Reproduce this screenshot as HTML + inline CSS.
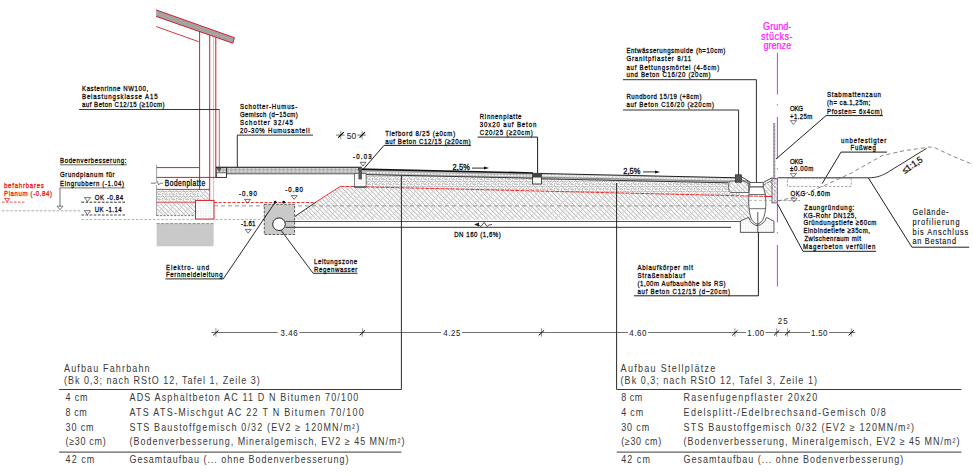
<!DOCTYPE html>
<html><head><meta charset="utf-8"><title>Querschnitt</title>
<style>
html,body{margin:0;padding:0;background:#fff;}
body{width:973px;height:475px;overflow:hidden;}
svg{display:block;}
text{font-family:"Liberation Sans",sans-serif;}
</style></head><body>
<svg width="973" height="475" viewBox="0 0 973 475">

<defs>
<pattern id="hatch" patternUnits="userSpaceOnUse" width="3.1" height="6.2" patternTransform="rotate(-45)">
<rect width="3.1" height="6.2" fill="#fff"/>
<line x1="0.5" y1="0" x2="0.5" y2="6.2" stroke="#b0b0b0" stroke-width="0.8"/>
<line x1="2.1" y1="1.0" x2="2.1" y2="2.4" stroke="#bdbdbd" stroke-width="0.8"/>
</pattern>
<pattern id="grav" patternUnits="userSpaceOnUse" width="7" height="5">
<rect width="7" height="5" fill="#fafafa"/>
<path d="M0.3,1.5 q1.1,-1.2 2.2,0 q1.1,1.2 2.2,0 M5.3,1.0 l1.4,1.3 M0.8,4.4 l1.6,-1.1 M3.4,3.9 q0.9,0.8 1.8,0 l1.4,0.8" stroke="#909090" stroke-width="0.95" fill="none"/>
</pattern>
<pattern id="stip" patternUnits="userSpaceOnUse" width="4" height="2.5">
<rect width="4" height="2.5" fill="#b2b2b2"/>
<rect x="0.5" y="0.6" width="2" height="1.1" fill="#f2f2f2"/>
</pattern>
<pattern id="dots" patternUnits="userSpaceOnUse" width="2.5" height="2.5">
<rect width="2.5" height="2.5" fill="#fff"/>
<rect x="0.5" y="0.5" width="0.8" height="0.8" fill="#bbb"/>
</pattern>
</defs>

<rect width="973" height="475" fill="#fff"/>
<polygon points="156.1,9.9 234.4,37.7 232.8,43.2 156.1,16.4" fill="#a3a3a3" stroke="none" stroke-width="0.8"/>
<polyline points="156.1,9.9 234.4,37.7 232.8,43.2 156.1,16.4" stroke="#d21f26" stroke-width="1.0" fill="none"/>
<line x1="156.1" y1="26.5" x2="198.7" y2="41.7" stroke="#d21f26" stroke-width="0.9"/>
<line x1="199.6" y1="31.4" x2="199.6" y2="189.4" stroke="#d21f26" stroke-width="1.0"/>
<line x1="209.7" y1="35.4" x2="209.7" y2="212.5" stroke="#d21f26" stroke-width="1.0"/>
<line x1="213.6" y1="36.8" x2="213.6" y2="210.0" stroke="#eaa" stroke-width="0.9"/>
<line x1="215.8" y1="37.3" x2="215.8" y2="177.6" stroke="#d21f26" stroke-width="1.0"/>
<line x1="156.6" y1="164.7" x2="156.6" y2="181.2" stroke="#888" stroke-width="0.8"/>
<line x1="156.6" y1="185.2" x2="156.6" y2="216.0" stroke="#888" stroke-width="0.8"/>
<path d="M151,183.2 L155.5,183.2 L157.3,181.4 L158.6,185 L160.2,183.2 L163,183.2" fill="none" stroke="#555" stroke-width="0.8"/>
<line x1="156.6" y1="167.6" x2="199.6" y2="167.6" stroke="#d21f26" stroke-width="1.0"/>
<line x1="156.6" y1="177.4" x2="216.0" y2="177.4" stroke="#d21f26" stroke-width="1.0"/>
<line x1="156.6" y1="189.4" x2="209.7" y2="189.4" stroke="#d21f26" stroke-width="1.0"/>
<line x1="156.6" y1="202.7" x2="195.5" y2="202.7" stroke="#d21f26" stroke-width="1.0"/>
<rect x="157.0" y="189.9" width="42.4" height="12.4" fill="url(#grav)" stroke="none" stroke-width="0.8"/>
<rect x="200.1" y="189.9" width="9.2" height="10.4" fill="url(#hatch)" stroke="none" stroke-width="0.8"/>
<rect x="157.0" y="203.2" width="38.4" height="12.2" fill="url(#hatch)" stroke="none" stroke-width="0.8"/>
<line x1="156.6" y1="215.6" x2="195.5" y2="215.6" stroke="#d21f26" stroke-width="0.8" stroke-dasharray="2,1.5"/>
<rect x="195.5" y="200.4" width="18.5" height="18.7" fill="url(#dots)" stroke="#d21f26" stroke-width="1.0"/>
<rect x="156.6" y="223.5" width="57.0" height="22.8" fill="#c9c9c9" stroke="none" stroke-width="0.8"/>
<line x1="156.6" y1="223.6" x2="213.6" y2="223.6" stroke="#777" stroke-width="0.8" stroke-dasharray="3,1.5"/>
<text transform="translate(164.8,186.3) scale(0.8,1)" font-size="8.3" fill="#111" text-anchor="start" textLength="50.4" lengthAdjust="spacing" stroke="#111" stroke-width="0.34">Bodenplatte</text>
<text transform="translate(82.0,90.8) scale(0.75,1)" font-size="8.1" fill="#111" text-anchor="start" textLength="88.3" lengthAdjust="spacing" stroke="#111" stroke-width="0.34">Kastenrinne NW100,</text>
<text transform="translate(82.0,98.9) scale(0.75,1)" font-size="8.1" fill="#111" text-anchor="start" textLength="100.7" lengthAdjust="spacing" stroke="#111" stroke-width="0.34">Belastungsklasse A15</text>
<text transform="translate(82.0,106.9) scale(0.75,1)" font-size="8.1" fill="#111" text-anchor="start" textLength="110.0" lengthAdjust="spacing" stroke="#111" stroke-width="0.34">auf Beton C12/15 (≥10cm)</text>
<polyline points="79.1,109.5 219.5,109.5" stroke="#222" stroke-width="0.9" fill="none"/>
<line x1="219.3" y1="109.5" x2="219.3" y2="167.4" stroke="#777" stroke-width="0.9"/>
<text transform="translate(60.0,163.3) scale(0.75,1)" font-size="8.1" fill="#111" text-anchor="start" textLength="88.5" lengthAdjust="spacing" stroke="#111" stroke-width="0.34">Bodenverbesserung:</text>
<line x1="60.0" y1="164.8" x2="127.0" y2="164.8" stroke="#222" stroke-width="0.7"/>
<text transform="translate(60.0,177.2) scale(0.75,1)" font-size="8.1" fill="#111" text-anchor="start" textLength="72.7" lengthAdjust="spacing" stroke="#111" stroke-width="0.34">Grundplanum für</text>
<text transform="translate(60.0,185.5) scale(0.75,1)" font-size="8.1" fill="#111" text-anchor="start" textLength="85.3" lengthAdjust="spacing" stroke="#111" stroke-width="0.34">Eingrubbern (-1.04)</text>
<polyline points="124.8,187.9 60.0,187.9 60.0,206.2" stroke="#333" stroke-width="0.7" fill="none"/>
<polygon points="57.1,206.2 62.9,206.2 60.0,209.8" fill="none" stroke="#444" stroke-width="0.7"/>
<line x1="2.0" y1="210.8" x2="80.5" y2="210.8" stroke="#888" stroke-width="0.7" stroke-dasharray="2.6,1.6"/>
<text transform="translate(4.0,188.2) scale(0.75,1)" font-size="8.1" fill="#ee1c1c" text-anchor="start" textLength="53.2" lengthAdjust="spacing" stroke="#ee1c1c" stroke-width="0.34">befahrbares</text>
<text transform="translate(4.0,195.8) scale(0.75,1)" font-size="8.1" fill="#ee1c1c" text-anchor="start" textLength="64.1" lengthAdjust="spacing" stroke="#ee1c1c" stroke-width="0.34">Planum (-0.84)</text>
<polygon points="4.4,198.3 9.8,198.3 7.1,201.7" fill="none" stroke="#ee1c1c" stroke-width="0.8"/>
<line x1="2.0" y1="202.1" x2="25.0" y2="202.1" stroke="#ee1c1c" stroke-width="0.8" stroke-dasharray="2.5,1.5"/>
<polygon points="84.4,197.6 90.6,197.6 87.5,201.5" fill="none" stroke="#333" stroke-width="0.7"/>
<text transform="translate(94.8,200.2) scale(0.75,1)" font-size="8.1" fill="#111" text-anchor="start" textLength="37.9" lengthAdjust="spacing" stroke="#111" stroke-width="0.34">OK -0.84</text>
<line x1="81.4" y1="202.2" x2="126.4" y2="202.2" stroke="#111" stroke-width="0.9" stroke-dasharray="2.6,1.5"/>
<polygon points="84.4,210.7 90.6,210.7 87.5,214.6" fill="none" stroke="#333" stroke-width="0.7"/>
<text transform="translate(94.8,212.4) scale(0.75,1)" font-size="8.1" fill="#111" text-anchor="start" textLength="35.7" lengthAdjust="spacing" stroke="#111" stroke-width="0.34">UK -1.14</text>
<line x1="81.4" y1="215.0" x2="126.4" y2="215.0" stroke="#333" stroke-width="0.9" stroke-dasharray="2.6,1.5"/>
<line x1="81.4" y1="219.5" x2="264.0" y2="219.5" stroke="#999" stroke-width="0.7" stroke-dasharray="2.6,1.6"/>
<text transform="translate(239.9,108.6) scale(0.75,1)" font-size="8.1" fill="#111" text-anchor="start" textLength="76.4" lengthAdjust="spacing" stroke="#111" stroke-width="0.34">Schotter-Humus-</text>
<text transform="translate(239.9,116.6) scale(0.75,1)" font-size="8.1" fill="#111" text-anchor="start" textLength="77.3" lengthAdjust="spacing" stroke="#111" stroke-width="0.34">Gemisch (d~15cm)</text>
<text transform="translate(239.9,124.6) scale(0.75,1)" font-size="8.1" fill="#111" text-anchor="start" textLength="70.8" lengthAdjust="spacing" stroke="#111" stroke-width="0.34">Schotter 32/45</text>
<text transform="translate(239.9,132.5) scale(0.75,1)" font-size="8.1" fill="#111" text-anchor="start" textLength="92.8" lengthAdjust="spacing" stroke="#111" stroke-width="0.34">20-30% Humusanteil</text>
<polyline points="313.0,135.1 237.3,135.1 237.3,167.4" stroke="#222" stroke-width="0.95" fill="none"/>
<rect x="216.2" y="167.4" width="143.0" height="6.3" fill="url(#stip)" stroke="none" stroke-width="0.8"/>
<line x1="216.0" y1="167.2" x2="362.0" y2="167.2" stroke="#111" stroke-width="1.1"/>
<line x1="226.0" y1="173.8" x2="356.0" y2="173.8" stroke="#333" stroke-width="0.8"/>
<rect x="216.3" y="167.4" width="10.2" height="10.0" fill="#fff" stroke="#222" stroke-width="0.9"/>
<rect x="216.8" y="168.0" width="9.2" height="4.6" fill="url(#stip)" stroke="none" stroke-width="0.8"/>
<polygon points="216.8,168.0 221.5,168.0 219.2,172.2" fill="#555" stroke="none" stroke-width="0.8"/>
<line x1="216.3" y1="172.8" x2="226.5" y2="172.8" stroke="#333" stroke-width="0.7"/>
<text x="346.7" y="138.7" font-size="9.4" fill="#2a2a2a" text-anchor="start" textLength="9.5" lengthAdjust="spacingAndGlyphs" stroke="#2a2a2a" stroke-width="0.1">50</text>
<line x1="336.0" y1="135.1" x2="344.6" y2="135.1" stroke="#666" stroke-width="0.9"/>
<line x1="340.8" y1="130.7" x2="340.8" y2="139.5" stroke="#888" stroke-width="0.9"/>
<line x1="338.2" y1="137.7" x2="343.7" y2="132.2" stroke="#000" stroke-width="1.1"/>
<line x1="357.3" y1="135.1" x2="365.9" y2="135.1" stroke="#666" stroke-width="0.9"/>
<line x1="362.1" y1="130.7" x2="362.1" y2="139.5" stroke="#888" stroke-width="0.9"/>
<line x1="359.5" y1="137.7" x2="365.0" y2="132.2" stroke="#000" stroke-width="1.1"/>
<text transform="translate(353.1,159.3) scale(0.75,1)" font-size="8.1" fill="#111" text-anchor="start" textLength="24.7" lengthAdjust="spacing" stroke="#111" stroke-width="0.34">-0.03</text>
<polygon points="360.0,162.3 366.0,162.3 363.0,166.1" fill="none" stroke="#333" stroke-width="0.7"/>
<text transform="translate(385.2,135.9) scale(0.75,1)" font-size="8.1" fill="#111" text-anchor="start" textLength="93.3" lengthAdjust="spacing" stroke="#111" stroke-width="0.34">Tiefbord 8/25 (±0cm)</text>
<text transform="translate(385.2,143.9) scale(0.75,1)" font-size="8.1" fill="#111" text-anchor="start" textLength="113.9" lengthAdjust="spacing" stroke="#111" stroke-width="0.34">auf Beton C12/15 (≥20cm)</text>
<polyline points="471.0,145.4 384.0,145.4 363.1,169.5" stroke="#111" stroke-width="0.95" fill="none"/>
<text transform="translate(452.5,169.5) scale(0.9,1)" font-size="8.3" fill="#111" text-anchor="start" textLength="19.2" lengthAdjust="spacing" stroke="#111" stroke-width="0.34">2,5%</text>
<line x1="472.0" y1="168.1" x2="485.0" y2="168.1" stroke="#222" stroke-width="0.95"/>
<polygon points="484.0,166.6 489.0,168.1 484.0,169.6" fill="#111" stroke="none" stroke-width="0.8"/>
<text transform="translate(479.8,118.6) scale(0.75,1)" font-size="8.1" fill="#111" text-anchor="start" textLength="55.6" lengthAdjust="spacing" stroke="#111" stroke-width="0.34">Rinnenplatte</text>
<text transform="translate(479.8,126.6) scale(0.75,1)" font-size="8.1" fill="#111" text-anchor="start" textLength="75.3" lengthAdjust="spacing" stroke="#111" stroke-width="0.34">30x20 auf Beton</text>
<text transform="translate(479.8,134.7) scale(0.75,1)" font-size="8.1" fill="#111" text-anchor="start" textLength="70.8" lengthAdjust="spacing" stroke="#111" stroke-width="0.34">C20/25 (≥20cm)</text>
<polyline points="477.6,137.1 537.6,137.1 537.6,173.0" stroke="#111" stroke-width="0.95" fill="none"/>
<text transform="translate(623.2,173.7) scale(0.9,1)" font-size="8.3" fill="#111" text-anchor="start" textLength="19.2" lengthAdjust="spacing" stroke="#111" stroke-width="0.34">2,5%</text>
<line x1="643.0" y1="171.9" x2="656.0" y2="171.9" stroke="#222" stroke-width="0.95"/>
<polygon points="655.0,170.4 660.0,171.9 655.0,173.4" fill="#111" stroke="none" stroke-width="0.8"/>
<polygon points="294.6,216.7 340.5,186.3 350.0,186.5 360.0,186.8 370.0,187.0 380.0,187.2 390.0,187.5 400.0,187.7 410.0,188.0 420.0,188.2 430.0,188.4 440.0,188.7 450.0,188.9 460.0,189.1 470.0,189.4 480.0,189.6 490.0,189.9 500.0,190.1 510.0,190.3 520.0,190.6 530.0,190.8 540.0,191.0 550.0,191.3 560.0,191.5 570.0,191.8 580.0,192.0 590.0,192.2 600.0,192.5 610.0,192.7 620.0,192.9 630.0,193.2 640.0,193.4 650.0,193.6 660.0,193.9 670.0,194.1 680.0,194.4 690.0,194.6 700.0,194.8 710.0,195.1 720.0,195.3 730.0,195.5 740.0,195.8 750.0,196.0 760.0,196.3 760.0,219.7 294.6,219.7" fill="url(#hatch)" stroke="none" stroke-width="0.8"/>
<polygon points="366.0,186.9 366.0,174.8 370.0,174.9 380.0,175.1 390.0,175.3 400.0,175.6 410.0,175.8 420.0,176.0 430.0,176.2 440.0,176.4 450.0,176.6 460.0,176.9 470.0,177.1 480.0,177.3 490.0,177.5 500.0,177.7 510.0,177.9 520.0,178.1 530.0,178.4 540.0,178.6 550.0,178.8 560.0,179.0 570.0,179.2 580.0,179.4 590.0,179.7 600.0,179.9 610.0,180.1 620.0,180.3 630.0,180.5 640.0,180.7 650.0,181.0 660.0,181.2 670.0,181.4 680.0,181.6 690.0,181.8 700.0,182.0 710.0,182.3 720.0,182.5 730.0,182.7 740.0,182.9 740.0,195.8 740.0,195.8 730.0,195.5 720.0,195.3 710.0,195.1 700.0,194.8 690.0,194.6 680.0,194.4 670.0,194.1 660.0,193.9 650.0,193.6 640.0,193.4 630.0,193.2 620.0,192.9 610.0,192.7 600.0,192.5 590.0,192.2 580.0,192.0 570.0,191.8 560.0,191.5 550.0,191.3 540.0,191.0 530.0,190.8 520.0,190.6 510.0,190.3 500.0,190.1 490.0,189.9 480.0,189.6 470.0,189.4 460.0,189.1 450.0,188.9 440.0,188.7 430.0,188.4 420.0,188.2 410.0,188.0 400.0,187.7 390.0,187.5 380.0,187.2 370.0,187.0" fill="url(#grav)" stroke="none" stroke-width="0.8"/>
<polygon points="358.0,169.4 533.0,173.2 533.0,178.4 358.0,174.6" fill="#b8b8b8" stroke="none" stroke-width="0.8"/>
<polygon points="541.0,173.4 735.0,177.6 735.0,183.0 541.0,178.8" fill="#cfcfcf" stroke="none" stroke-width="0.8"/>
<polyline points="367.0,172.5 533.0,176.1" stroke="#fff" stroke-width="1.1" fill="none" stroke-dasharray="2.2,1.0"/>
<polyline points="541.0,175.3 735.0,179.5" stroke="#fff" stroke-width="1.0" fill="none" stroke-dasharray="2.6,1.0"/>
<polyline points="541.0,177.3 735.0,181.5" stroke="#555" stroke-width="0.6" fill="none"/>
<polyline points="358.0,169.2 533.0,173.0" stroke="#111" stroke-width="1.7" fill="none"/>
<polyline points="541.0,173.5 735.0,177.7" stroke="#222" stroke-width="1.1" fill="none"/>
<polyline points="366.0,174.6 533.0,178.2" stroke="#222" stroke-width="0.9" fill="none"/>
<polyline points="541.0,178.8 728.0,182.8" stroke="#222" stroke-width="0.9" fill="none"/>
<polyline points="214.0,202.5 315.9,202.5" stroke="#ee1c1c" stroke-width="0.9" fill="none" stroke-dasharray="3,1.6"/>
<polyline points="315.9,202.1 340.5,186.3" stroke="#ee1c1c" stroke-width="0.9" fill="none"/>
<polyline points="340.5,186.3 777.0,196.7" stroke="#ee1c1c" stroke-width="0.95" fill="none" stroke-dasharray="4,1"/>
<line x1="294.6" y1="216.7" x2="315.9" y2="202.1" stroke="#111" stroke-width="0.9"/>
<line x1="214.0" y1="205.9" x2="760.0" y2="205.9" stroke="#8c8c8c" stroke-width="0.95" stroke-dasharray="4,3"/>
<rect x="354.6" y="173.7" width="11.5" height="13.3" fill="url(#dots)" stroke="#444" stroke-width="0.7"/>
<line x1="354.6" y1="187.0" x2="366.1" y2="187.0" stroke="#222" stroke-width="0.9"/>
<rect x="358.5" y="168.9" width="3.4" height="10.5" fill="#555" stroke="none" stroke-width="0.8"/>
<rect x="532.6" y="177.0" width="9.0" height="7.0" fill="url(#dots)" stroke="#222" stroke-width="0.8"/>
<rect x="532.6" y="173.2" width="9.0" height="3.4" fill="#444" stroke="#222" stroke-width="0.6"/>
<rect x="264.3" y="204.3" width="30.3" height="30.2" fill="#c9c9c9" stroke="#333" stroke-width="0.8" stroke-dasharray="2.5,1.5"/>
<line x1="285.5" y1="221.5" x2="750.0" y2="221.5" stroke="#444" stroke-width="0.9"/>
<line x1="285.5" y1="227.3" x2="731.0" y2="227.3" stroke="#333" stroke-width="1.0"/>
<polygon points="474.0,224.4 479.0,222.4 479.0,226.4" fill="#222" stroke="none" stroke-width="0.8"/>
<path d="M478,224.4 L481,226.6 L484.2,222.4 L487,226.6 L489,225 L492,224.4" fill="none" stroke="#222" stroke-width="0.8"/>
<text transform="translate(454.2,236.7) scale(0.75,1)" font-size="8.1" fill="#111" text-anchor="start" textLength="62.1" lengthAdjust="spacing" stroke="#111" stroke-width="0.34">DN 160 (1,6%)</text>
<circle cx="279" cy="224.2" r="6.3" fill="#fff" stroke="#111" stroke-width="0.9"/>
<text transform="translate(239.1,196.2) scale(0.75,1)" font-size="8.1" fill="#111" text-anchor="start" textLength="23.6" lengthAdjust="spacing" stroke="#111" stroke-width="0.34">-0.90</text>
<polygon points="244.5,199.4 250.5,199.4 247.5,203.2" fill="none" stroke="#333" stroke-width="0.7"/>
<text transform="translate(285.3,192.4) scale(0.75,1)" font-size="8.1" fill="#111" text-anchor="start" textLength="23.6" lengthAdjust="spacing" stroke="#111" stroke-width="0.34">-0.80</text>
<polygon points="291.2,195.6 297.2,195.6 294.2,199.3" fill="none" stroke="#333" stroke-width="0.7"/>
<text transform="translate(241.1,226.1) scale(0.75,1)" font-size="8.1" fill="#111" text-anchor="start" textLength="18.9" lengthAdjust="spacing" stroke="#111" stroke-width="0.34">-1.61</text>
<polygon points="245.2,229.4 251.2,229.4 248.2,233.2" fill="none" stroke="#333" stroke-width="0.7"/>
<polyline points="165.5,278.9 223.3,278.9 275.2,202.2" stroke="#111" stroke-width="0.9" fill="none"/>
<text transform="translate(165.9,269.6) scale(0.75,1)" font-size="8.1" fill="#111" text-anchor="start" textLength="57.7" lengthAdjust="spacing" stroke="#111" stroke-width="0.34">Elektro- und</text>
<text transform="translate(165.9,276.6) scale(0.75,1)" font-size="8.1" fill="#111" text-anchor="start" textLength="75.5" lengthAdjust="spacing" stroke="#111" stroke-width="0.34">Fernmeldeleitung</text>
<polyline points="357.5,273.3 313.2,273.3 281.0,230.3" stroke="#111" stroke-width="0.9" fill="none"/>
<text transform="translate(314.0,263.9) scale(0.75,1)" font-size="8.1" fill="#111" text-anchor="start" textLength="57.5" lengthAdjust="spacing" stroke="#111" stroke-width="0.34">Leitungszone</text>
<text transform="translate(314.0,271.7) scale(0.75,1)" font-size="8.1" fill="#111" text-anchor="start" textLength="57.7" lengthAdjust="spacing" stroke="#111" stroke-width="0.34">Regenwasser</text>
<circle cx="275.2" cy="202.2" r="1.35" fill="#111"/>
<circle cx="283.7" cy="202.2" r="1.35" fill="#111"/>
<line x1="401.4" y1="175.8" x2="401.4" y2="389.5" stroke="#111" stroke-width="0.9"/>
<line x1="616.6" y1="183.0" x2="616.6" y2="389.5" stroke="#111" stroke-width="0.9"/>
<text transform="translate(626.4,53.3) scale(0.75,1)" font-size="8.1" fill="#111" text-anchor="start" textLength="131.9" lengthAdjust="spacing" stroke="#111" stroke-width="0.34">Entwässerungsmulde (h=10cm)</text>
<text transform="translate(626.4,61.3) scale(0.75,1)" font-size="8.1" fill="#111" text-anchor="start" textLength="86.4" lengthAdjust="spacing" stroke="#111" stroke-width="0.34">Granitpflaster 8/11</text>
<text transform="translate(626.4,69.5) scale(0.75,1)" font-size="8.1" fill="#111" text-anchor="start" textLength="123.7" lengthAdjust="spacing" stroke="#111" stroke-width="0.34">auf Bettungsmörtel (4-6cm)</text>
<text transform="translate(626.4,77.3) scale(0.75,1)" font-size="8.1" fill="#111" text-anchor="start" textLength="112.3" lengthAdjust="spacing" stroke="#111" stroke-width="0.34">und Beton C16/20 (20cm)</text>
<polyline points="623.0,79.7 756.4,79.7 756.4,182.8" stroke="#222" stroke-width="0.95" fill="none"/>
<text transform="translate(626.4,98.6) scale(0.75,1)" font-size="8.1" fill="#111" text-anchor="start" textLength="100.1" lengthAdjust="spacing" stroke="#111" stroke-width="0.34">Rundbord 15/19 (+8cm)</text>
<text transform="translate(626.4,106.7) scale(0.75,1)" font-size="8.1" fill="#111" text-anchor="start" textLength="116.7" lengthAdjust="spacing" stroke="#111" stroke-width="0.34">auf Beton C16/20 (≥20cm)</text>
<polyline points="623.0,110.0 738.6,110.0 738.6,175.0" stroke="#222" stroke-width="0.95" fill="none"/>
<path d="M731,181 L748,181 L749,192.5 L731,192.5 Q728.7,192.5 728.7,189 L728.7,184 Q728.7,181 731,181 Z" fill="url(#hatch)" stroke="#333" stroke-width="0.7"/>
<rect x="735.4" y="174.8" width="5.9" height="7.4" fill="#555" stroke="#222" stroke-width="0.7"/>
<polygon points="763.3,185.0 772.5,180.2 772.5,196.0 765.0,196.0" fill="url(#hatch)" stroke="none" stroke-width="0.8"/>
<path d="M741,176.5 L750.8,182.5 M763.3,182.5 L772.5,177.5" fill="none" stroke="#333" stroke-width="0.9"/>
<path d="M741,179.2 L750.8,185 M763.3,185 L772.5,180.2" fill="none" stroke="#444" stroke-width="0.8"/>
<rect x="766.0" y="183.0" width="6.5" height="13.0" fill="url(#hatch)" stroke="none" stroke-width="0.8"/>
<path d="M740.4,232.4 L740.4,221 L748.5,217.4 Q750.5,224 757.3,225.8 Q764.5,224 766.5,217.4 L774,221.3 L774,232.4 Z" fill="url(#dots)" stroke="#333" stroke-width="0.8"/>
<path d="M749.8,186.8 C748.3,195 748.3,205 749.6,212.5 Q751,222.5 757.3,224.3 Q763.6,222.5 765,212.5 C766.3,205 766.3,195 763.2,186.8 Z" fill="#fff" stroke="#333" stroke-width="0.8"/>
<rect x="749.8" y="182.6" width="13.4" height="4.2" fill="#fff" stroke="#333" stroke-width="0.8"/>
<line x1="749.2" y1="194.5" x2="765.6" y2="194.5" stroke="#333" stroke-width="0.7"/>
<line x1="749.6" y1="208.7" x2="765.2" y2="208.7" stroke="#333" stroke-width="0.7"/>
<line x1="749.0" y1="200.4" x2="800.0" y2="200.4" stroke="#888" stroke-width="0.6" stroke-dasharray="3,2"/>
<line x1="757.8" y1="212.0" x2="757.8" y2="232.0" stroke="#333" stroke-width="0.8"/>
<polyline points="749.0,196.0 777.0,196.7" stroke="#ee1c1c" stroke-width="0.95" fill="none" stroke-dasharray="4,1"/>
<rect x="773.2" y="123.0" width="2.0" height="56.0" fill="#8a8a8a" stroke="none" stroke-width="0.8"/>
<line x1="774.2" y1="124.0" x2="774.2" y2="178.0" stroke="#eee" stroke-width="0.5" stroke-dasharray="2,1.5"/>
<rect x="772.0" y="178.7" width="5.5" height="24.2" fill="url(#hatch)" stroke="#333" stroke-width="0.7"/>
<line x1="774.8" y1="179.0" x2="774.8" y2="202.0" stroke="#777" stroke-width="0.6" stroke-dasharray="2,1.5"/>
<line x1="777.4" y1="52.9" x2="777.4" y2="94.4" stroke="#ff19ff" stroke-width="1.0"/>
<line x1="777.4" y1="104.2" x2="777.4" y2="105.4" stroke="#ff19ff" stroke-width="1.0"/>
<line x1="777.4" y1="116.9" x2="777.4" y2="158.4" stroke="#ff19ff" stroke-width="1.0"/>
<line x1="777.4" y1="168.2" x2="777.4" y2="169.4" stroke="#ff19ff" stroke-width="1.0"/>
<line x1="777.4" y1="180.9" x2="777.4" y2="222.4" stroke="#ff19ff" stroke-width="1.0"/>
<line x1="777.4" y1="232.2" x2="777.4" y2="233.4" stroke="#ff19ff" stroke-width="1.0"/>
<line x1="777.4" y1="244.9" x2="777.4" y2="286.4" stroke="#ff19ff" stroke-width="1.0"/>
<text transform="translate(777.2,29.7) scale(0.85,1)" font-size="10.6" fill="#ff19ff" text-anchor="middle" textLength="33.2" lengthAdjust="spacing" stroke="#ff19ff" stroke-width="0.25">Grund-</text>
<text transform="translate(776.7,39.6) scale(0.85,1)" font-size="10.6" fill="#ff19ff" text-anchor="middle" textLength="37.1" lengthAdjust="spacing" stroke="#ff19ff" stroke-width="0.25">stücks-</text>
<text transform="translate(777.3,49.3) scale(0.85,1)" font-size="10.6" fill="#ff19ff" text-anchor="middle" textLength="32.7" lengthAdjust="spacing" stroke="#ff19ff" stroke-width="0.25">grenze</text>
<text transform="translate(790.1,110.7) scale(0.75,1)" font-size="8.1" fill="#111" text-anchor="start" textLength="17.3" lengthAdjust="spacing" stroke="#111" stroke-width="0.34">OKG</text>
<text transform="translate(790.1,118.5) scale(0.75,1)" font-size="8.1" fill="#111" text-anchor="start" textLength="29.5" lengthAdjust="spacing" stroke="#111" stroke-width="0.34">+1.25m</text>
<polygon points="790.3,120.6 796.5,120.6 793.4,124.5" fill="none" stroke="#444" stroke-width="0.7"/>
<text transform="translate(790.1,163.7) scale(0.75,1)" font-size="8.1" fill="#111" text-anchor="start" textLength="17.3" lengthAdjust="spacing" stroke="#111" stroke-width="0.34">OKG</text>
<text transform="translate(790.1,171.0) scale(0.75,1)" font-size="8.1" fill="#111" text-anchor="start" textLength="30.9" lengthAdjust="spacing" stroke="#111" stroke-width="0.34">±0.00m</text>
<polygon points="790.3,173.4 796.5,173.4 793.4,177.3" fill="none" stroke="#444" stroke-width="0.7"/>
<text transform="translate(790.5,196.3) scale(0.75,1)" font-size="8.1" fill="#111" text-anchor="start" textLength="52.8" lengthAdjust="spacing" stroke="#111" stroke-width="0.34">OKG -0.60m</text>
<polygon points="790.9,198.2 797.1,198.2 794.0,202.1" fill="none" stroke="#444" stroke-width="0.7"/>
<line x1="777.5" y1="200.6" x2="800.0" y2="200.6" stroke="#888" stroke-width="0.6" stroke-dasharray="3,2"/>
<text transform="translate(827.0,97.3) scale(0.75,1)" font-size="8.1" fill="#111" text-anchor="start" textLength="72.0" lengthAdjust="spacing" stroke="#111" stroke-width="0.34">Stabmattenzaun</text>
<text transform="translate(827.0,105.3) scale(0.75,1)" font-size="8.1" fill="#111" text-anchor="start" textLength="57.7" lengthAdjust="spacing" stroke="#111" stroke-width="0.34">(h= ca.1,25m;</text>
<text transform="translate(827.0,113.5) scale(0.75,1)" font-size="8.1" fill="#111" text-anchor="start" textLength="73.7" lengthAdjust="spacing" stroke="#111" stroke-width="0.34">Pfosten= 6x4cm)</text>
<polyline points="882.9,115.6 826.1,115.6 776.0,159.0" stroke="#111" stroke-width="0.95" fill="none"/>
<text transform="translate(841.0,142.6) scale(0.75,1)" font-size="8.1" fill="#111" text-anchor="start" textLength="60.4" lengthAdjust="spacing" stroke="#111" stroke-width="0.34">unbefestigter</text>
<text transform="translate(850.5,150.4) scale(0.75,1)" font-size="8.1" fill="#111" text-anchor="start" textLength="33.7" lengthAdjust="spacing" stroke="#111" stroke-width="0.34">Fußweg</text>
<polyline points="887.0,152.1 841.0,152.1 822.1,183.7" stroke="#111" stroke-width="0.95" fill="none"/>
<path d="M777.5,177.8 L868.4,177.8 C877,177.8 882,175.6 888.1,172.1 L926.6,148.3" fill="none" stroke="#333" stroke-width="1.0"/>
<rect x="787.4" y="178.0" width="63.8" height="8.4" fill="none" stroke="#666" stroke-width="0.6" stroke-dasharray="2.5,1.5"/>
<path d="M777.5,201 L799.7,195.8 L824.4,185.5 L851.1,173.2 L882,155.7 L904.5,150.6 L926,147.6 Q931.3,146.2 936,148.3 L953.9,156.7 L973,164.5" fill="none" stroke="#666" stroke-width="0.8" stroke-dasharray="4,3"/>
<text x="914.0" y="167.6" font-size="9.0" fill="#222" text-anchor="middle" textLength="22.5" lengthAdjust="spacingAndGlyphs" stroke="#222" stroke-width="0.34" transform="rotate(-34 914.0 167.6)">≤1:1,5</text>
<text transform="translate(804.2,209.6) scale(0.75,1)" font-size="8.1" fill="#111" text-anchor="start" textLength="66.7" lengthAdjust="spacing" stroke="#111" stroke-width="0.34">Zaungründung:</text>
<text transform="translate(803.4,217.5) scale(0.75,1)" font-size="8.1" fill="#111" text-anchor="start" textLength="70.7" lengthAdjust="spacing" stroke="#111" stroke-width="0.34">KG-Rohr DN125,</text>
<text transform="translate(803.4,225.3) scale(0.75,1)" font-size="8.1" fill="#111" text-anchor="start" textLength="97.3" lengthAdjust="spacing" stroke="#111" stroke-width="0.34">Gründungstiefe ≥60cm</text>
<text transform="translate(803.4,233.2) scale(0.75,1)" font-size="8.1" fill="#111" text-anchor="start" textLength="88.7" lengthAdjust="spacing" stroke="#111" stroke-width="0.34">Einbindetiefe ≥35cm,</text>
<text transform="translate(804.4,241.3) scale(0.75,1)" font-size="8.1" fill="#111" text-anchor="start" textLength="75.3" lengthAdjust="spacing" stroke="#111" stroke-width="0.34">Zwischenraum mit</text>
<text transform="translate(803.0,249.2) scale(0.75,1)" font-size="8.1" fill="#111" text-anchor="start" textLength="96.5" lengthAdjust="spacing" stroke="#111" stroke-width="0.34">Magerbeton verfüllen</text>
<polyline points="876.0,251.3 803.0,251.3 777.5,204.0" stroke="#111" stroke-width="0.95" fill="none"/>
<text transform="translate(912.5,214.8) scale(0.86,1)" font-size="8.6" fill="#111" text-anchor="start" textLength="41.9" lengthAdjust="spacing" stroke="#111" stroke-width="0.12">Gelände-</text>
<text transform="translate(912.5,224.8) scale(0.86,1)" font-size="8.6" fill="#111" text-anchor="start" textLength="54.7" lengthAdjust="spacing" stroke="#111" stroke-width="0.12">profilierung</text>
<text transform="translate(912.5,234.6) scale(0.86,1)" font-size="8.6" fill="#111" text-anchor="start" textLength="64.8" lengthAdjust="spacing" stroke="#111" stroke-width="0.12">bis Anschluss</text>
<text transform="translate(912.5,244.4) scale(0.86,1)" font-size="8.6" fill="#111" text-anchor="start" textLength="50.6" lengthAdjust="spacing" stroke="#111" stroke-width="0.12">an Bestand</text>
<polyline points="969.2,247.2 911.9,247.2 868.4,178.0" stroke="#111" stroke-width="0.95" fill="none"/>
<text transform="translate(637.4,269.6) scale(0.75,1)" font-size="8.1" fill="#111" text-anchor="start" textLength="74.0" lengthAdjust="spacing" stroke="#111" stroke-width="0.34">Ablaufkörper mit</text>
<text transform="translate(637.4,277.5) scale(0.75,1)" font-size="8.1" fill="#111" text-anchor="start" textLength="63.3" lengthAdjust="spacing" stroke="#111" stroke-width="0.34">Straßenablauf</text>
<text transform="translate(637.4,285.9) scale(0.75,1)" font-size="8.1" fill="#111" text-anchor="start" textLength="117.5" lengthAdjust="spacing" stroke="#111" stroke-width="0.34">(1,00m Aufbauhöhe bis RS)</text>
<text transform="translate(637.4,293.8) scale(0.75,1)" font-size="8.1" fill="#111" text-anchor="start" textLength="123.5" lengthAdjust="spacing" stroke="#111" stroke-width="0.34">auf Beton C12/15 (d~20cm)</text>
<polyline points="634.0,295.8 758.4,295.8 758.4,232.0" stroke="#111" stroke-width="0.95" fill="none"/>
<line x1="211.3" y1="332.5" x2="277.7" y2="332.5" stroke="#333" stroke-width="0.7"/>
<line x1="299.5" y1="332.5" x2="441.0" y2="332.5" stroke="#333" stroke-width="0.7"/>
<line x1="462.0" y1="332.5" x2="628.0" y2="332.5" stroke="#333" stroke-width="0.7"/>
<line x1="648.0" y1="332.5" x2="746.0" y2="332.5" stroke="#333" stroke-width="0.7"/>
<line x1="765.5" y1="332.5" x2="810.0" y2="332.5" stroke="#333" stroke-width="0.7"/>
<line x1="829.0" y1="332.5" x2="855.2" y2="332.5" stroke="#333" stroke-width="0.7"/>
<line x1="215.9" y1="328.3" x2="215.9" y2="336.7" stroke="#777" stroke-width="0.8"/>
<line x1="213.2" y1="335.4" x2="218.5" y2="330.3" stroke="#000" stroke-width="1.0"/>
<line x1="362.4" y1="328.3" x2="362.4" y2="336.7" stroke="#777" stroke-width="0.8"/>
<line x1="359.7" y1="335.4" x2="365.0" y2="330.3" stroke="#000" stroke-width="1.0"/>
<line x1="541.5" y1="328.3" x2="541.5" y2="336.7" stroke="#777" stroke-width="0.8"/>
<line x1="538.8" y1="335.4" x2="544.1" y2="330.3" stroke="#000" stroke-width="1.0"/>
<line x1="734.9" y1="328.3" x2="734.9" y2="336.7" stroke="#777" stroke-width="0.8"/>
<line x1="732.2" y1="335.4" x2="737.5" y2="330.3" stroke="#000" stroke-width="1.0"/>
<line x1="776.7" y1="328.3" x2="776.7" y2="336.7" stroke="#777" stroke-width="0.8"/>
<line x1="774.0" y1="335.4" x2="779.3" y2="330.3" stroke="#000" stroke-width="1.0"/>
<line x1="787.6" y1="328.3" x2="787.6" y2="336.7" stroke="#777" stroke-width="0.8"/>
<line x1="784.9" y1="335.4" x2="790.2" y2="330.3" stroke="#000" stroke-width="1.0"/>
<line x1="851.3" y1="328.3" x2="851.3" y2="336.7" stroke="#777" stroke-width="0.8"/>
<line x1="848.6" y1="335.4" x2="853.9" y2="330.3" stroke="#000" stroke-width="1.0"/>
<text transform="translate(289.1,335.6) scale(0.9,1)" font-size="8.8" fill="#222" text-anchor="middle" textLength="19.1" lengthAdjust="spacing" stroke="#222" stroke-width="0.05">3.46</text>
<text transform="translate(451.8,335.6) scale(0.9,1)" font-size="8.8" fill="#222" text-anchor="middle" textLength="19.1" lengthAdjust="spacing" stroke="#222" stroke-width="0.05">4.25</text>
<text transform="translate(637.9,335.6) scale(0.9,1)" font-size="8.8" fill="#222" text-anchor="middle" textLength="19.1" lengthAdjust="spacing" stroke="#222" stroke-width="0.05">4.60</text>
<text transform="translate(755.8,335.6) scale(0.9,1)" font-size="8.8" fill="#222" text-anchor="middle" textLength="18.8" lengthAdjust="spacing" stroke="#222" stroke-width="0.05">1.00</text>
<text transform="translate(782.6,323.8) scale(0.9,1)" font-size="8.8" fill="#222" text-anchor="middle" textLength="11.0" lengthAdjust="spacing" stroke="#222" stroke-width="0.05">25</text>
<text transform="translate(819.2,335.6) scale(0.9,1)" font-size="8.8" fill="#222" text-anchor="middle" textLength="18.2" lengthAdjust="spacing" stroke="#222" stroke-width="0.05">1.50</text>
<text transform="translate(64.0,372.3) scale(0.88,1)" font-size="10.2" fill="#383838" text-anchor="start" textLength="97.3" lengthAdjust="spacing">Aufbau Fahrbahn</text>
<text transform="translate(64.0,384.3) scale(0.88,1)" font-size="10.2" fill="#383838" text-anchor="start" textLength="222.4" lengthAdjust="spacing">(Bk 0,3; nach RStO 12, Tafel 1, Zeile 3)</text>
<line x1="59.1" y1="389.5" x2="401.4" y2="389.5" stroke="#222" stroke-width="0.9"/>
<text transform="translate(65.6,401.4) scale(0.88,1)" font-size="10.2" fill="#383838" text-anchor="start" textLength="24.9" lengthAdjust="spacing">4 cm</text>
<text transform="translate(129.5,401.4) scale(0.88,1)" font-size="10.2" fill="#383838" text-anchor="start" textLength="260.0" lengthAdjust="spacing">ADS Asphaltbeton AC 11 D N Bitumen 70/100</text>
<text transform="translate(65.6,416.0) scale(0.88,1)" font-size="10.2" fill="#383838" text-anchor="start" textLength="24.0" lengthAdjust="spacing">8 cm</text>
<text transform="translate(129.5,416.0) scale(0.88,1)" font-size="10.2" fill="#383838" text-anchor="start" textLength="266.2" lengthAdjust="spacing">ATS ATS-Mischgut AC 22 T N Bitumen 70/100</text>
<text transform="translate(65.6,430.6) scale(0.88,1)" font-size="10.2" fill="#383838" text-anchor="start" textLength="31.8" lengthAdjust="spacing">30 cm</text>
<text transform="translate(129.5,430.6) scale(0.88,1)" font-size="10.2" fill="#383838" text-anchor="start" textLength="261.0" lengthAdjust="spacing">STS Baustoffgemisch 0/32 (EV2 ≥ 120MN/m²)</text>
<text transform="translate(65.6,445.1) scale(0.88,1)" font-size="10.2" fill="#383838" text-anchor="start" textLength="45.5" lengthAdjust="spacing">(≥30 cm)</text>
<text transform="translate(129.5,445.1) scale(0.88,1)" font-size="10.2" fill="#383838" text-anchor="start" textLength="312.5" lengthAdjust="spacing">(Bodenverbesserung, Mineralgemisch, EV2 ≥ 45 MN/m²)</text>
<line x1="59.1" y1="452.1" x2="401.4" y2="452.1" stroke="#222" stroke-width="0.9"/>
<text transform="translate(65.6,463.3) scale(0.88,1)" font-size="10.2" fill="#383838" text-anchor="start" textLength="32.6" lengthAdjust="spacing">42 cm</text>
<text transform="translate(129.5,463.3) scale(0.88,1)" font-size="10.2" fill="#383838" text-anchor="start" textLength="248.8" lengthAdjust="spacing">Gesamtaufbau (... ohne Bodenverbesserung)</text>
<text transform="translate(620.6,372.3) scale(0.88,1)" font-size="10.2" fill="#383838" text-anchor="start" textLength="107.6" lengthAdjust="spacing">Aufbau Stellplätze</text>
<text transform="translate(620.6,384.3) scale(0.88,1)" font-size="10.2" fill="#383838" text-anchor="start" textLength="223.1" lengthAdjust="spacing">(Bk 0,3; nach RStO 12, Tafel 3, Zeile 1)</text>
<line x1="616.8" y1="389.5" x2="961.4" y2="389.5" stroke="#222" stroke-width="0.9"/>
<text transform="translate(621.2,401.4) scale(0.88,1)" font-size="10.2" fill="#383838" text-anchor="start" textLength="24.0" lengthAdjust="spacing">8 cm</text>
<text transform="translate(683.6,401.4) scale(0.88,1)" font-size="10.2" fill="#383838" text-anchor="start" textLength="152.0" lengthAdjust="spacing">Rasenfugenpflaster 20x20</text>
<text transform="translate(621.2,416.0) scale(0.88,1)" font-size="10.2" fill="#383838" text-anchor="start" textLength="24.9" lengthAdjust="spacing">4 cm</text>
<text transform="translate(683.6,416.0) scale(0.88,1)" font-size="10.2" fill="#383838" text-anchor="start" textLength="229.7" lengthAdjust="spacing">Edelsplitt-/Edelbrechsand-Gemisch 0/8</text>
<text transform="translate(621.2,430.6) scale(0.88,1)" font-size="10.2" fill="#383838" text-anchor="start" textLength="31.8" lengthAdjust="spacing">30 cm</text>
<text transform="translate(683.6,430.6) scale(0.88,1)" font-size="10.2" fill="#383838" text-anchor="start" textLength="261.7" lengthAdjust="spacing">STS Baustoffgemisch 0/32 (EV2 ≥ 120MN/m²)</text>
<text transform="translate(621.2,445.1) scale(0.88,1)" font-size="10.2" fill="#383838" text-anchor="start" textLength="45.5" lengthAdjust="spacing">(≥30 cm)</text>
<text transform="translate(683.6,445.1) scale(0.88,1)" font-size="10.2" fill="#383838" text-anchor="start" textLength="313.6" lengthAdjust="spacing">(Bodenverbesserung, Mineralgemisch, EV2 ≥ 45 MN/m²)</text>
<line x1="616.8" y1="452.1" x2="961.4" y2="452.1" stroke="#222" stroke-width="0.9"/>
<text transform="translate(621.2,463.3) scale(0.88,1)" font-size="10.2" fill="#383838" text-anchor="start" textLength="32.6" lengthAdjust="spacing">42 cm</text>
<text transform="translate(683.6,463.3) scale(0.88,1)" font-size="10.2" fill="#383838" text-anchor="start" textLength="249.5" lengthAdjust="spacing">Gesamtaufbau (... ohne Bodenverbesserung)</text>
</svg>
</body></html>
